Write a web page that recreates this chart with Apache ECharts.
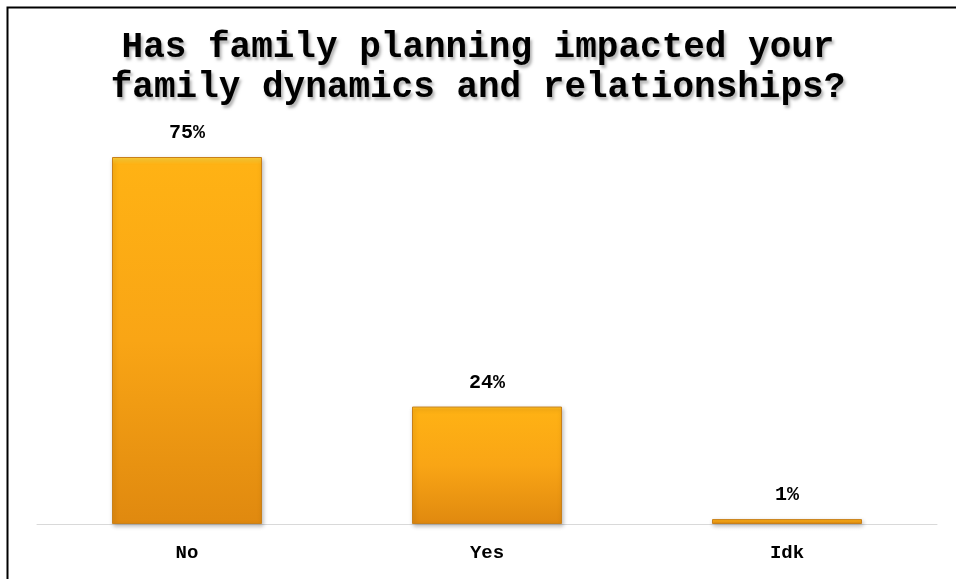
<!DOCTYPE html>
<html><head><meta charset="utf-8">
<script src="https://cdn.jsdelivr.net/npm/echarts@6/dist/echarts.min.js"></script>
<style>html,body{margin:0;padding:0;background:#fff}#c{width:956px;height:579px}</style>
</head><body><div id="c"></div>
<script>
var categories = ['No', 'Yes', 'Idk'];
var values = [75, 24, 1];
var titleText = 'Has family planning impacted your\nfamily dynamics and relationships?';

var chart = echarts.init(document.getElementById('c'));
var font = '"Liberation Mono", "Courier New", monospace';
chart.setOption({
  backgroundColor: '#fff',
  animation: false,
  title: {
    text: titleText,
    left: 'center', top: 23,
    textStyle: {
      fontFamily: font, fontWeight: 'bold', fontSize: 36, lineHeight: 40, color: '#000',
      textShadowColor: 'rgba(0,0,0,0.3)', textShadowBlur: 3, textShadowOffsetX: 2, textShadowOffsetY: 3
    }
  },
  graphic: [{
    type: 'rect', left: 5, top: 5, shape: {width: 1000, height: 1000},
    style: {fill: 'none', stroke: '#000', lineWidth: 2}, z: 100
  }],
  grid: {left: 37, right: 19, top: 157, bottom: 55},
  xAxis: {
    type: 'category', data: categories,
    axisLine: {lineStyle: {color: '#D9D9D9', width: 1}},
    axisTick: {show: false},
    axisLabel: {margin: 20, fontFamily: font, fontWeight: 'bold', fontSize: 19, color: '#000'}
  },
  yAxis: {type: 'value', min: 0, max: 75, show: false, splitLine: {show: false}},
  series: [{
    type: 'bar', data: values, barWidth: '50%',
    itemStyle: {
      color: {type: 'linear', x: 0, y: 0, x2: 0, y2: 1, colorStops: [
        {offset: 0, color: '#FFD23A'},
        {offset: 0.02, color: '#FFB214'},
        {offset: 0.5, color: '#F9A515'},
        {offset: 1, color: '#E0890F'}
      ]},
      borderColor: '#C8801A', borderWidth: 1,
      shadowColor: 'rgba(0,0,0,0.25)', shadowBlur: 4, shadowOffsetX: 1, shadowOffsetY: 2
    },
    label: {
      show: true, position: 'top', distance: 14, formatter: '{c}%',
      fontFamily: font, fontWeight: 'bold', fontSize: 20, color: '#000'
    }
  }]
});
</script></body></html>
